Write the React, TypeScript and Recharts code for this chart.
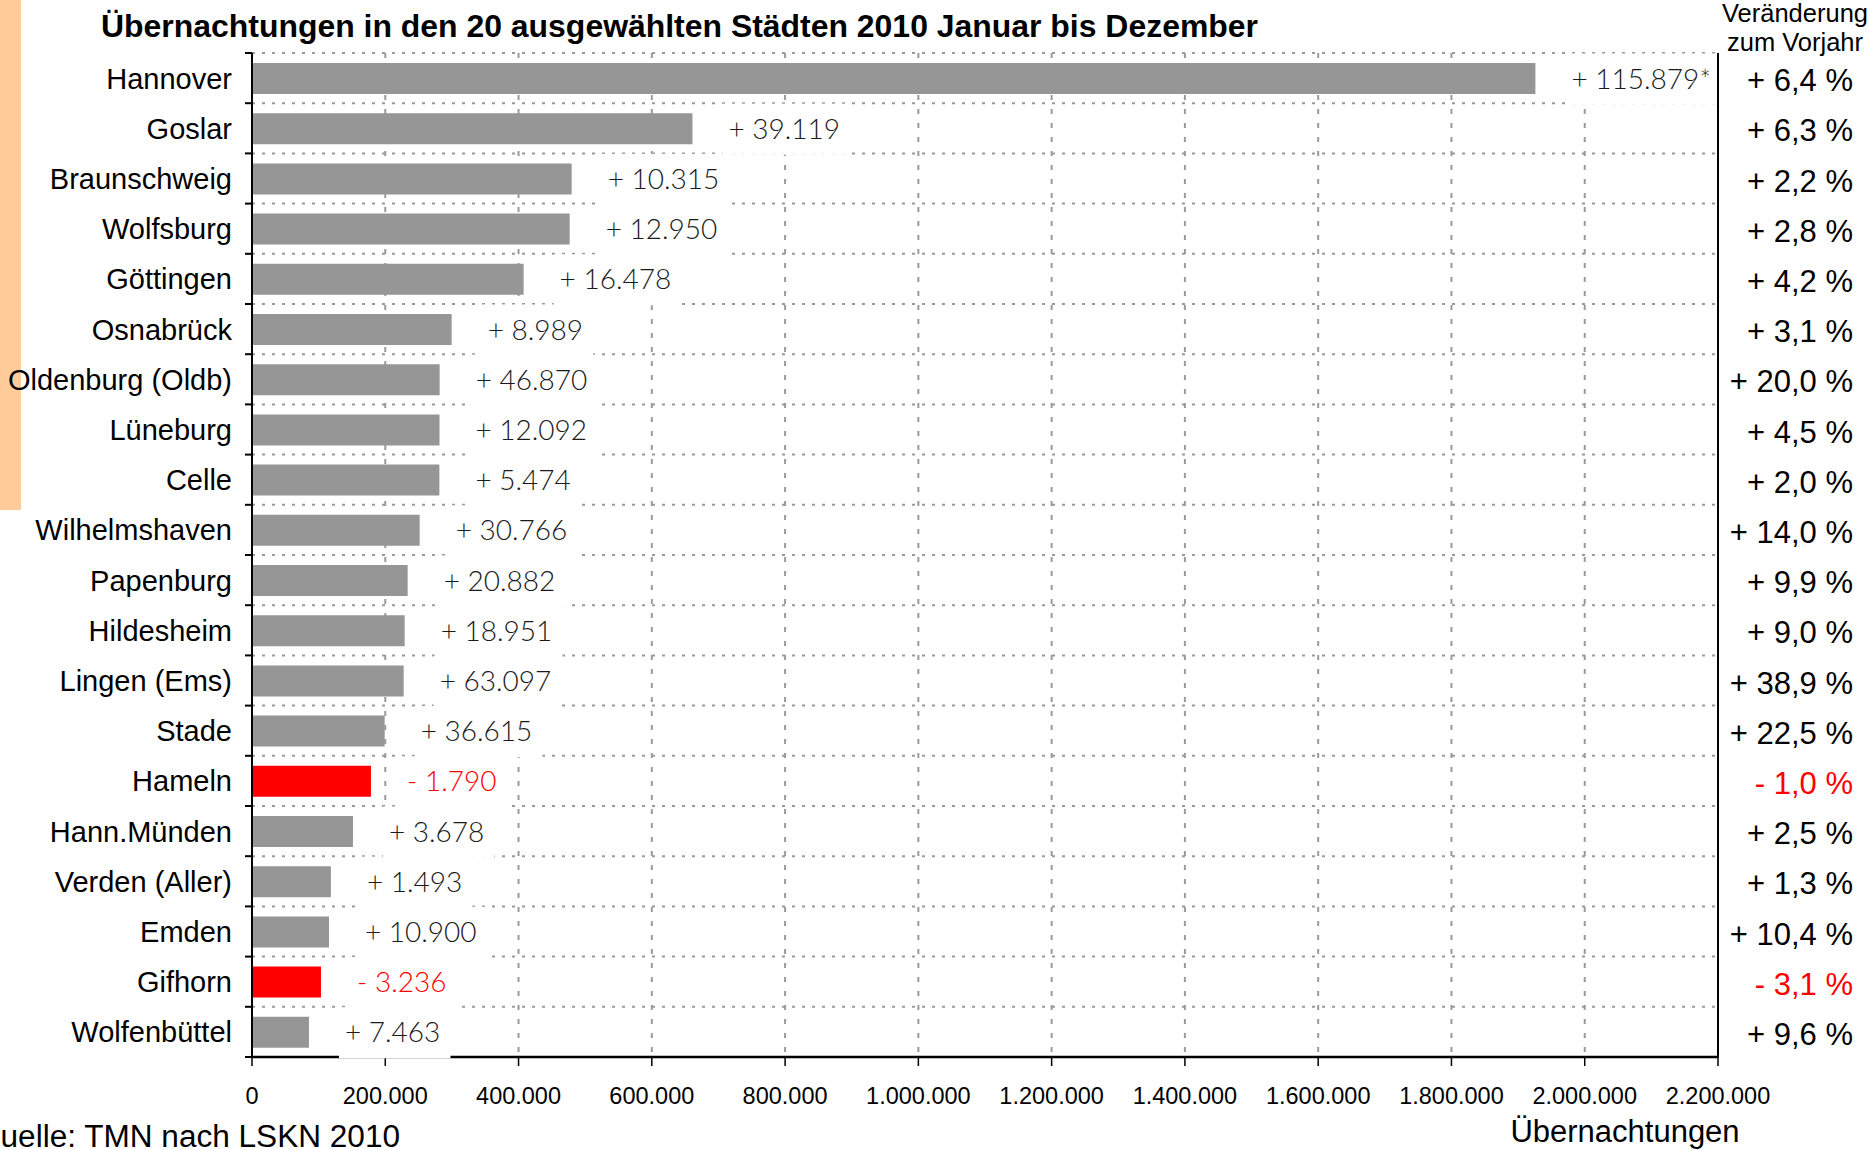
import React from 'react';
import { BarChart, Bar, XAxis, YAxis, CartesianGrid, Cell, LabelList } from 'recharts';

const cities = [
  'Hannover', 'Goslar', 'Braunschweig', 'Wolfsburg', 'Göttingen', 'Osnabrück',
  'Oldenburg (Oldb)', 'Lüneburg', 'Celle', 'Wilhelmshaven', 'Papenburg', 'Hildesheim',
  'Lingen (Ems)', 'Stade', 'Hameln', 'Hann.Münden', 'Verden (Aller)', 'Emden', 'Gifhorn', 'Wolfenbüttel',
];
const overnights = [
  1926000, 661000, 479700, 476700, 407600, 299600,
  281600, 281400, 281200, 251600, 233600, 229100,
  227600, 199100, 178500, 151500, 118400, 115500, 103500, 85500,
];
const absChange = [
  115879, 39119, 10315, 12950, 16478, 8989,
  46870, 12092, 5474, 30766, 20882, 18951,
  63097, 36615, -1790, 3678, 1493, 10900, -3236, 7463,
];
const absChangeNote = ['*'];
const pctChange = [
  6.4, 6.3, 2.2, 2.8, 4.2, 3.1,
  20.0, 4.5, 2.0, 14.0, 9.9, 9.0,
  38.9, 22.5, -1.0, 2.5, 1.3, 10.4, -3.1, 9.6,
];
const xTicks = [0, 200000, 400000, 600000, 800000, 1000000, 1200000, 1400000, 1600000, 1800000, 2000000, 2200000];

const titleText = 'Übernachtungen in den 20 ausgewählten Städten 2010 Januar bis Dezember';
const headerLines = ['Veränderung', 'zum Vorjahr'];
const sourceText = 'Quelle: TMN nach LSKN 2010';
const xAxisTitle = 'Übernachtungen';

const data = cities.map((city, i) => ({
  city,
  value: overnights[i],
  abs: absChange[i],
  note: absChangeNote[i] ?? '',
  pct: pctChange[i],
}));

const ARIAL = "'Liberation Sans', Arial, sans-serif";
const THIN = "Lato, 'Open Sans', sans-serif";
const GRAY = '#969696';
const RED = '#FF0000';
const GRID = '#9a9a9a';
const PLOT_RIGHT = 1718;

const thousands = (n: number) => String(Math.round(Math.abs(n))).replace(/\B(?=(\d{3})+(?!\d))/g, '.');
const fmtAbs = (n: number, note: string) => (n < 0 ? '- ' : '+ ') + thousands(n) + note;
const fmtPct = (n: number) => (n < 0 ? '- ' : '+ ') + Math.abs(n).toFixed(1).replace('.', ',') + ' %';

const charW: Record<string, number> = { '+': 0.58, ' ': 0.2, '.': 0.24, '*': 0.42, '-': 0.34 };
const estWidth = (s: string, fs: number) =>
  s.split('').reduce((a, c) => a + (charW[c] ?? 0.58), 0) * fs;

const ChangeLabel = (props: any) => {
  const { x, y, width, height, index } = props;
  const d = data[index];
  if (!d) return null;
  const text = fmtAbs(d.abs, d.note);
  const fs = 28;
  const tx = Number(x) + Number(width) + 36;
  const cy = Number(y) + Number(height) / 2;
  const w = estWidth(text, fs);
  const boxRight = Math.min(tx + w + 12, PLOT_RIGHT - 2);
  return (
    <g>
      <rect x={tx - 6} y={cy - 25} width={Math.max(0, boxRight - (tx - 6))} height={51} fill="#fff" />
      <text x={tx} y={cy} dy="0.36em" fontSize={fs} fontFamily={THIN} fontWeight={300}
        fill={d.abs < 0 ? RED : '#1a1a1a'}>{text}</text>
    </g>
  );
};

const CityTick = (props: any) => {
  const { x, y, payload, index } = props;
  const half = payload?.offset || 25.1;
  const ax = x + 20;
  return (
    <g>
      <text x={x} y={y} dy="0.36em" textAnchor="end" fontSize={29} fontFamily={ARIAL} fill="#000">
        {payload.value}
      </text>
      <line x1={ax - 7} x2={ax} y1={y - half} y2={y - half} stroke="#000" strokeWidth={2} />
      {index === cities.length - 1 && (
        <line x1={ax - 7} x2={ax} y1={y + half} y2={y + half} stroke="#000" strokeWidth={2} />
      )}
    </g>
  );
};

const PctTick = (props: any) => {
  const { x, y, index } = props;
  const d = data[index];
  if (!d) return null;
  return (
    <text x={x + 135} y={y + 13} textAnchor="end" fontSize={31} fontFamily={ARIAL}
      fill={d.pct < 0 ? RED : '#000'}>{fmtPct(d.pct)}</text>
  );
};

export default function App() {
  return (
    <div style={{ position: 'absolute', left: 0, top: 0, width: 1870, height: 1149, background: '#fff', overflow: 'hidden' }}>
      <div style={{ position: 'absolute', left: 0, top: 0, width: 21, height: 510, background: '#FFCC99' }} />
      <div style={{ position: 'absolute', left: 0, top: 0 }}>
        <BarChart width={1870} height={1149} data={data} layout="vertical"
          margin={{ top: 53, right: 0, bottom: 39, left: 0 }}>
          <CartesianGrid horizontal={false} vertical stroke={GRID} strokeWidth={2} strokeDasharray="5 9" />
          <CartesianGrid vertical={false} horizontal stroke={GRID} strokeWidth={2} strokeDasharray="3 7"
            horizontalCoordinatesGenerator={({ offset }: any) =>
              Array.from({ length: cities.length + 1 }, (_, i) => offset.top + (i * offset.height) / cities.length)
            } />
          <XAxis type="number" domain={[0, 2200000]} ticks={xTicks} interval={0}
            tickFormatter={(v: number) => thousands(v)}
            tick={{ fontSize: 23.5, fill: '#000', fontFamily: ARIAL }}
            tickSize={9} tickMargin={21} height={53}
            tickLine={{ stroke: '#000', strokeWidth: 1.5 }}
            axisLine={{ stroke: '#000', strokeWidth: 2.5 }} />
          <XAxis xAxisId="top" orientation="top" type="number" domain={[0, 2200000]} height={0}
            tick={false} tickLine={false} axisLine={{ stroke: '#000', strokeWidth: 2 }} />
          <YAxis type="category" dataKey="city" width={252} tickSize={0} tickMargin={20}
            interval={0} tickLine={false} tick={<CityTick />}
            axisLine={{ stroke: '#000', strokeWidth: 2 }} />
          <YAxis yAxisId="right" orientation="right" type="category" dataKey="city" width={152}
            tickSize={0} tickMargin={0} interval={0} tickLine={false} tick={<PctTick />}
            axisLine={{ stroke: '#000', strokeWidth: 2 }} />
          <Bar dataKey="value" barSize={31} fill={GRAY} isAnimationActive={false}>
            {data.map((d, i) => (
              <Cell key={i} fill={d.abs < 0 ? RED : GRAY} />
            ))}
            <LabelList dataKey="abs" content={<ChangeLabel />} />
          </Bar>
        </BarChart>
      </div>
      <svg width={1870} height={1149} style={{ position: 'absolute', left: 0, top: 0, pointerEvents: 'none' }}>
        <text x={101} y={37} fontSize={31} fontWeight="bold" fontFamily={ARIAL} fill="#000"
          textLength={1157} lengthAdjust="spacingAndGlyphs">{titleText}</text>
        <text x={1795} y={22} fontSize={25.5} textAnchor="middle" fontFamily={ARIAL} fill="#000">{headerLines[0]}</text>
        <text x={1795} y={51} fontSize={25.5} textAnchor="middle" fontFamily={ARIAL} fill="#000">{headerLines[1]}</text>
        <text x={-24} y={1147} fontSize={31} fontFamily={ARIAL} fill="#000"
          textLength={424} lengthAdjust="spacingAndGlyphs">{sourceText}</text>
        <text x={1625} y={1142} fontSize={31} textAnchor="middle" fontFamily={ARIAL} fill="#000">{xAxisTitle}</text>
      </svg>
    </div>
  );
}
